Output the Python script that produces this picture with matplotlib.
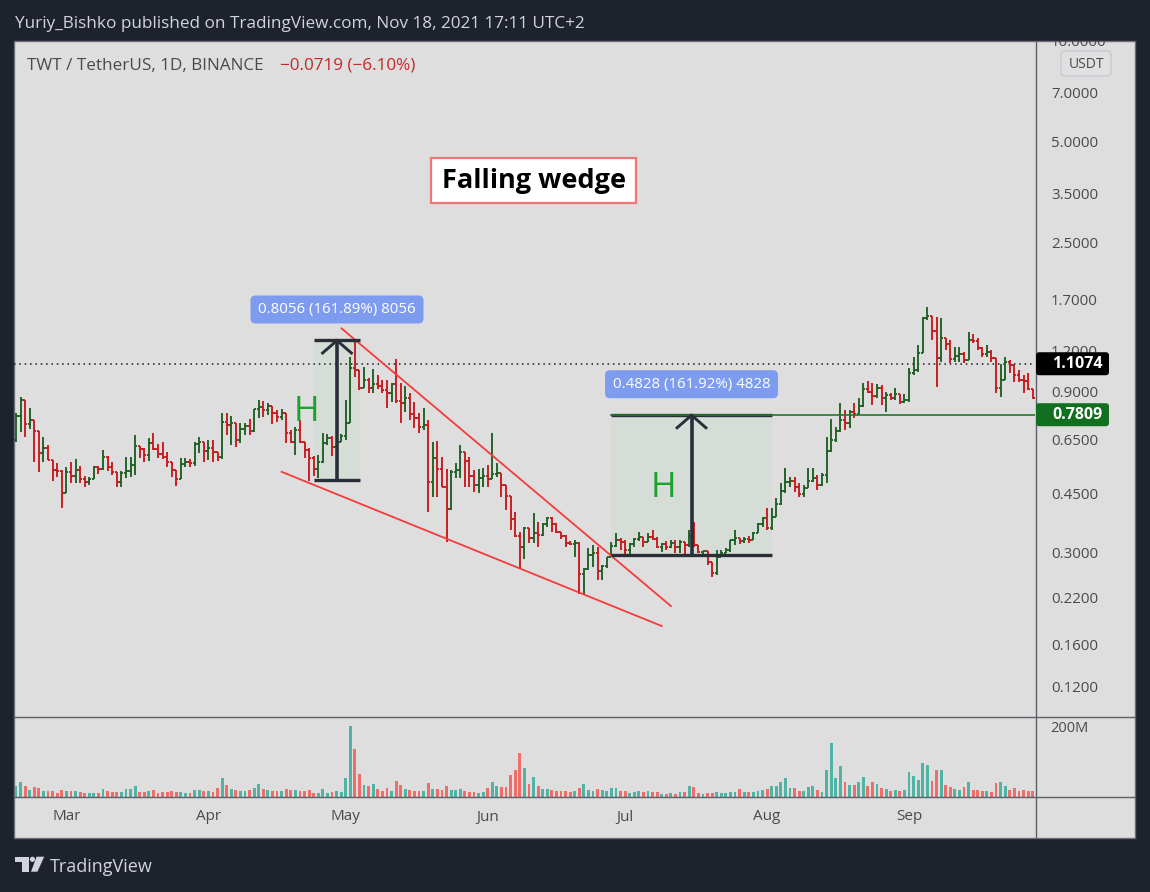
import numpy as np
import matplotlib
matplotlib.use("Agg")
import matplotlib.pyplot as plt
from matplotlib.patches import Rectangle, FancyBboxPatch, Polygon, Circle
from matplotlib.collections import LineCollection
import matplotlib.transforms as mtransforms

plt.rcParams['font.family'] = ['Open Sans', 'DejaVu Sans']

# ---------------- data ----------------
first_date = '2021-02-18'
open_first = 0.657
close = [0.774, 0.864, 0.733, 0.753, 0.698, 0.601, 0.622, 0.573, 0.535, 0.531,
         0.457, 0.527, 0.513, 0.535, 0.503, 0.493, 0.503, 0.546, 0.539, 0.584,
         0.546, 0.527, 0.493, 0.524, 0.531, 0.553, 0.630, 0.618, 0.593, 0.643,
         0.618, 0.597, 0.584, 0.565, 0.535, 0.503, 0.557, 0.565, 0.561, 0.639,
         0.648, 0.609, 0.622, 0.605, 0.584, 0.743, 0.728, 0.738, 0.657, 0.708,
         0.723, 0.698, 0.812, 0.824, 0.807, 0.829, 0.790, 0.769, 0.790, 0.689,
         0.648, 0.703, 0.648, 0.613, 0.580, 0.539, 0.565, 0.643, 0.666, 0.626,
         0.648, 0.675, 0.738, 1.076, 1.061, 0.938, 0.991, 0.938, 0.964, 0.951,
         0.925, 0.906, 0.964, 0.858, 0.847, 0.876, 0.785, 0.763, 0.718, 0.728,
         0.493, 0.580, 0.539, 0.476, 0.409, 0.527, 0.535, 0.605, 0.569, 0.513,
         0.482, 0.506, 0.513, 0.503, 0.520, 0.524, 0.482, 0.447, 0.383, 0.340,
         0.316, 0.360, 0.336, 0.347, 0.343, 0.370, 0.385, 0.370, 0.350, 0.340,
         0.324, 0.322, 0.324, 0.262, 0.271, 0.299, 0.303, 0.268, 0.277, 0.295,
         0.318, 0.331, 0.326, 0.309, 0.322, 0.333, 0.338, 0.326, 0.338, 0.333,
         0.316, 0.322, 0.316, 0.324, 0.316, 0.326, 0.320, 0.340, 0.320, 0.305,
         0.306, 0.284, 0.264, 0.295, 0.303, 0.309, 0.331, 0.336, 0.329, 0.334,
         0.331, 0.347, 0.370, 0.385, 0.360, 0.388, 0.424, 0.463, 0.493, 0.496,
         0.476, 0.454, 0.473, 0.496, 0.506, 0.482, 0.517, 0.609, 0.657, 0.698,
         0.753, 0.738, 0.796, 0.785, 0.829, 0.931, 0.912, 0.888, 0.938, 0.876,
         0.894, 0.876, 0.900, 0.852, 0.864, 1.039, 1.061, 1.192, 1.515, 1.535,
         1.386, 1.152, 1.321, 1.268, 1.144, 1.168, 1.184, 1.136, 1.303, 1.294,
         1.233, 1.184, 1.200, 1.152, 0.938, 0.991, 1.121, 1.098, 1.025, 0.991,
         0.984, 0.931, 0.874]
high = [0.790, 0.882, 0.864, 0.818, 0.753, 0.698, 0.670, 0.635, 0.573, 0.561,
        0.535, 0.546, 0.565, 0.576, 0.550, 0.513, 0.510, 0.550, 0.550, 0.613,
        0.588, 0.565, 0.527, 0.531, 0.584, 0.584, 0.680, 0.630, 0.622, 0.666,
        0.689, 0.639, 0.648, 0.605, 0.565, 0.535, 0.580, 0.580, 0.576, 0.648,
        0.670, 0.648, 0.657, 0.657, 0.605, 0.790, 0.790, 0.774, 0.738, 0.738,
        0.738, 0.758, 0.812, 0.864, 0.858, 0.847, 0.829, 0.807, 0.812, 0.790,
        0.703, 0.718, 0.753, 0.648, 0.622, 0.588, 0.593, 0.689, 0.684, 0.675,
        0.684, 0.684, 0.864, 1.160, 1.303, 1.061, 1.083, 1.004, 1.068, 1.025,
        0.991, 0.991, 0.970, 1.144, 0.970, 0.951, 0.906, 0.852, 0.790, 0.818,
        0.753, 0.648, 0.652, 0.584, 0.539, 0.535, 0.561, 0.635, 0.605, 0.584,
        0.535, 0.539, 0.542, 0.553, 0.689, 0.561, 0.524, 0.482, 0.447, 0.401,
        0.350, 0.362, 0.360, 0.399, 0.375, 0.372, 0.388, 0.388, 0.372, 0.350,
        0.343, 0.329, 0.331, 0.326, 0.273, 0.313, 0.320, 0.316, 0.279, 0.295,
        0.326, 0.347, 0.336, 0.331, 0.324, 0.336, 0.350, 0.338, 0.347, 0.355,
        0.338, 0.324, 0.329, 0.331, 0.331, 0.331, 0.326, 0.355, 0.375, 0.320,
        0.307, 0.305, 0.284, 0.309, 0.309, 0.313, 0.331, 0.355, 0.336, 0.338,
        0.340, 0.350, 0.372, 0.388, 0.412, 0.412, 0.441, 0.489, 0.542, 0.510,
        0.510, 0.489, 0.482, 0.542, 0.542, 0.517, 0.524, 0.670, 0.758, 0.718,
        0.847, 0.807, 0.807, 0.847, 0.876, 0.970, 0.984, 0.970, 0.964, 0.957,
        0.912, 0.906, 0.938, 0.900, 0.900, 1.076, 1.160, 1.259, 1.525, 1.633,
        1.525, 1.525, 1.515, 1.321, 1.303, 1.242, 1.242, 1.200, 1.376, 1.357,
        1.321, 1.242, 1.259, 1.217, 1.152, 1.105, 1.160, 1.136, 1.098, 1.061,
        1.025, 1.039, 0.925]
low = [0.648, 0.694, 0.670, 0.708, 0.565, 0.527, 0.565, 0.573, 0.496, 0.510,
       0.412, 0.457, 0.489, 0.489, 0.489, 0.476, 0.482, 0.503, 0.520, 0.535,
       0.531, 0.517, 0.476, 0.476, 0.506, 0.510, 0.517, 0.580, 0.565, 0.569,
       0.613, 0.580, 0.576, 0.546, 0.510, 0.479, 0.503, 0.546, 0.546, 0.550,
       0.601, 0.565, 0.573, 0.565, 0.569, 0.576, 0.680, 0.635, 0.626, 0.643,
       0.680, 0.680, 0.694, 0.763, 0.769, 0.779, 0.733, 0.743, 0.753, 0.643,
       0.643, 0.593, 0.643, 0.580, 0.496, 0.513, 0.506, 0.561, 0.635, 0.588,
       0.613, 0.648, 0.657, 0.738, 1.011, 0.925, 0.938, 0.906, 0.906, 0.931,
       0.906, 0.818, 0.852, 0.847, 0.738, 0.796, 0.753, 0.713, 0.689, 0.703,
       0.401, 0.444, 0.444, 0.476, 0.326, 0.407, 0.506, 0.506, 0.476, 0.476,
       0.460, 0.457, 0.476, 0.476, 0.503, 0.510, 0.444, 0.407, 0.355, 0.338,
       0.273, 0.291, 0.324, 0.324, 0.316, 0.340, 0.362, 0.350, 0.347, 0.333,
       0.316, 0.320, 0.295, 0.229, 0.229, 0.270, 0.275, 0.252, 0.252, 0.273,
       0.295, 0.316, 0.309, 0.299, 0.299, 0.316, 0.329, 0.316, 0.326, 0.331,
       0.313, 0.305, 0.309, 0.313, 0.303, 0.303, 0.299, 0.316, 0.316, 0.303,
       0.299, 0.279, 0.257, 0.260, 0.295, 0.303, 0.305, 0.320, 0.322, 0.324,
       0.324, 0.331, 0.347, 0.362, 0.355, 0.355, 0.388, 0.421, 0.457, 0.476,
       0.460, 0.444, 0.444, 0.473, 0.493, 0.466, 0.479, 0.489, 0.605, 0.648,
       0.694, 0.703, 0.713, 0.763, 0.785, 0.824, 0.906, 0.835, 0.876, 0.835,
       0.796, 0.864, 0.864, 0.841, 0.847, 0.852, 1.025, 1.047, 1.192, 1.494,
       1.303, 0.944, 1.121, 1.217, 1.113, 1.121, 1.121, 1.113, 1.136, 1.277,
       1.217, 1.160, 1.160, 1.121, 0.906, 0.882, 1.011, 1.039, 0.977, 0.977,
       0.906, 0.925, 0.870]
volume_m = [33, 44, 33, 21, 30, 27, 18, 18, 18, 13,
            21, 18, 18, 18, 15, 13, 13, 13, 13, 24,
            18, 15, 15, 15, 24, 24, 33, 15, 15, 18,
            21, 13, 15, 15, 18, 15, 15, 13, 13, 21,
            21, 18, 18, 15, 27, 56, 36, 24, 21, 18,
            18, 21, 27, 39, 24, 21, 18, 18, 18, 24,
            21, 21, 18, 18, 21, 13, 13, 24, 13, 15,
            18, 15, 56, 207, 140, 68, 36, 33, 39, 24,
            18, 27, 18, 47, 36, 24, 21, 18, 18, 18,
            42, 24, 24, 21, 33, 21, 21, 24, 18, 15,
            15, 13, 15, 27, 44, 33, 30, 30, 65, 79,
            129, 85, 39, 59, 33, 24, 24, 21, 18, 18,
            18, 15, 18, 27, 39, 21, 18, 24, 21, 18,
            27, 27, 18, 18, 13, 15, 18, 15, 18, 15,
            15, 10, 10, 13, 10, 15, 15, 33, 30, 13,
            10, 13, 13, 15, 13, 13, 15, 15, 24, 15,
            15, 15, 18, 21, 24, 33, 33, 44, 56, 27,
            27, 18, 18, 30, 33, 21, 15, 79, 158, 56,
            91, 44, 36, 36, 44, 59, 33, 44, 39, 27,
            24, 18, 21, 18, 21, 73, 62, 50, 100, 94,
            47, 79, 79, 36, 30, 24, 21, 30, 44, 21,
            21, 18, 18, 15, 42, 44, 33, 21, 27, 18,
            21, 18, 18]

price_ticks = [10.0, 7.0, 5.0, 3.5, 2.5, 1.7, 1.2, 0.9, 0.65, 0.45, 0.3, 0.22, 0.16, 0.12]
volume_tick_m = 200
last_price = 1.1074
target_price = 0.7809

# measurement tools: (start index, end index, low price, high price, label)
measures = [(65.07, 75.1, 0.4976, 1.3032, "0.8056 (161.89%) 8056"),
            (129.9, 165.1, 0.2982, 0.7809, "0.4828 (161.92%) 4828")]
h_labels = [(63.5, 0.748), (141.3, 0.444)]
upper_wedge = ([71.07, 143.0], [1.411, 0.2104])
lower_wedge = ([58.0, 141.0], [0.528, 0.1835])

title = "Yuriy_Bishko published on TradingView.com, Nov 18, 2021 17:11 UTC+2"
symbol = "TWT / TetherUS, 1D, BINANCE"
change = "\u22120.0719 (\u22126.10%)"

# ---------------- figure ----------------
W, H = 1150, 892
fig = plt.figure(figsize=(W / 100, H / 100), dpi=100)
fig.patch.set_facecolor('#1e222d')
px = mtransforms.Affine2D().scale(1.0 / W, -1.0 / H).translate(0, 1) + fig.transFigure

BG = '#dedede'
SEP = '#5d5f66'
TXT = '#4a4a4a'
UP, DN = '#1d6024', '#c8191e'
VUP, VDN = '#50b4a5', '#ef6d6b'

fig.patches.append(Rectangle((14, 41), 1121, 797, transform=px, facecolor=BG,
                             edgecolor='#6b6e78', lw=1.0, zorder=-10))

ax = fig.add_axes([14 / W, 1 - 717 / H, 1021 / W, 676 / H])
axv = fig.add_axes([14 / W, 1 - 797.3 / H, 1021 / W, 80.3 / H])
axr = fig.add_axes([1035 / W, 1 - 717 / H, 100 / W, 676 / H])
for a in (ax, axv, axr):
    a.set_facecolor('none')
    a.axis('off')

n = len(close)
idx = np.arange(n)
close_a = np.array(close)
opens = np.concatenate([[open_first], close_a[:-1]])
up = close_a >= opens

ax.set_yscale('log')
ax.set_ylim(0.0984, 10.11)
ax.set_xlim(-0.44, 222.5)
axv.set_xlim(-0.44, 222.5)
axv.set_ylim(0, 231.8)
axr.set_yscale('log')
axr.set_ylim(0.0984, 10.11)
axr.set_xlim(0, 1)

# OHLC bars
segs, cols = [], []
for i in range(n):
    o, h, l, c = opens[i], high[i], low[i], close[i]
    col = UP if up[i] else DN
    segs.append([(i, min(l, o, c)), (i, max(h, o, c))])
    segs.append([(i - 0.46, o), (i, o)])
    segs.append([(i, c), (i + 0.46, c)])
    cols += [col] * 3
ax.add_collection(LineCollection(segs, colors=cols, linewidths=1.35, capstyle='butt', zorder=3))

# volume
axv.bar(idx, volume_m, width=0.62, color=[VUP if u else VDN for u in up], zorder=2)

# wedge lines
ax.plot(upper_wedge[0], upper_wedge[1], color='#f53b3b', lw=1.3, zorder=5)
ax.plot(lower_wedge[0], lower_wedge[1], color='#f53b3b', lw=1.3, zorder=5)

# last price dotted line
ax.axhline(last_price, color='#1a1a1a', lw=1.1, ls=(0, (1, 2.5)), zorder=2)


def to_px(a, x, y):
    d = a.transData.transform((x, y))
    f = fig.transFigure.inverted().transform(d)
    return f[0] * W, (1 - f[1]) * H


def from_px(a, x, y):
    d = px.transform((x, y))
    return a.transData.inverted().transform(d)


# target green line
ax.plot([measures[1][0], 222.5], [target_price, target_price], color='#1f7a2a', lw=1.2, zorder=6)

DARK = '#2a2e39'
for (x0, x1, lo, hi, lab) in measures:
    ax.add_patch(Rectangle((x0, lo), x1 - x0, hi - lo, facecolor='#d6dcd6', edgecolor='none', zorder=1))
    ax.plot([x0, x1], [lo, lo], color=DARK, lw=2.4, solid_capstyle='butt', zorder=7)
    ax.plot([x0, x1], [hi, hi], color=DARK, lw=2.4, solid_capstyle='butt', zorder=5)
    xc = (x0 + x1) / 2
    ax.plot([xc, xc], [lo, hi], color=DARK, lw=2.6, solid_capstyle='butt', zorder=7)
    tx, ty = to_px(ax, xc, hi)
    pts = [from_px(ax, tx - 15.5, ty + 14), from_px(ax, tx, ty + 0.5), from_px(ax, tx + 15.5, ty + 14)]
    ax.plot([p[0] for p in pts], [p[1] for p in pts], color=DARK, lw=2.1,
            solid_capstyle='butt', solid_joinstyle='miter', zorder=7)
    bw = 173
    fig.patches.append(FancyBboxPatch((tx - bw / 2, ty - 44.5), bw, 28,
                                      boxstyle='round,pad=0,rounding_size=5', transform=px,
                                      facecolor='#7d9cf0', edgecolor='none', zorder=8))
    fig.text(tx / W, 1 - (ty - 30.5) / H, lab, color='white', fontsize=10.8,
             ha='center', va='center', zorder=9)

for (hx, hy) in h_labels:
    ax.text(hx, hy, 'H', color='#17a32c', fontsize=25, ha='center', va='baseline', zorder=8)

# Falling wedge box
fig.patches.append(Rectangle((431, 158), 205, 45, transform=px, facecolor='white',
                             edgecolor='#f07575', lw=1.6, zorder=8))
fig.text(533.5 / W, 1 - 181 / H, 'Falling wedge', fontsize=19.5, fontweight='bold',
         color='black', ha='center', va='center', zorder=9)

# header texts
fig.text(15 / W, 1 - 28 / H, title, color='#d1d4dc', fontsize=12.3, ha='left', va='baseline')
fig.text(27 / W, 1 - 70 / H, symbol, color=TXT, fontsize=12.3, ha='left', va='baseline')
fig.text(280 / W, 1 - 70 / H, change, color='#c62828', fontsize=12.3, ha='left', va='baseline')

# separators
for yy in (717, 797.3):
    fig.add_artist(plt.Line2D([14, 1135], [yy, yy], transform=px, color=SEP, lw=1.0))
fig.add_artist(plt.Line2D([1035.5, 1035.5], [41, 838], transform=px, color=SEP, lw=1.0))

# price scale labels
for t in price_ticks:
    axr.text(0.16, t, f"{t:.4f}", color=TXT, fontsize=10.8, ha='left', va='center', clip_on=True)

# USDT badge
fig.patches.append(FancyBboxPatch((1061, 51), 50, 25, boxstyle='round,pad=0,rounding_size=4',
                                  transform=px, facecolor='#e0e0e2', edgecolor='#c8c9d0', lw=1.0, zorder=8))
fig.text(1086 / W, 1 - 64 / H, 'USDT', color=TXT, fontsize=10, ha='center', va='center', zorder=9)

# last price / target labels
for price, colr in ((last_price, '#000000'), (target_price, '#107020')):
    _, py = to_px(axr, 0, price)
    fig.patches.append(FancyBboxPatch((1036, py - 11.5), 73, 23, boxstyle='round,pad=0,rounding_size=3',
                                      transform=px, facecolor=colr, edgecolor='none', zorder=8))
    fig.text(1052 / W, 1 - py / H, f"{price:.4f}", color='white', fontsize=11.5, fontweight='bold',
             ha='left', va='center', zorder=9)

# volume scale label
_, vy = to_px(axv, 0, volume_tick_m)
fig.text(1050 / W, 1 - vy / H, f"{volume_tick_m}M", color=TXT, fontsize=10.5, ha='left', va='center')

# month labels
dates = np.arange(np.datetime64(first_date), np.datetime64(first_date) + n)
month_start = dates.astype('datetime64[M]').astype('datetime64[D]')
mnames = ['Jan', 'Feb', 'Mar', 'Apr', 'May', 'Jun', 'Jul', 'Aug', 'Sep', 'Oct', 'Nov', 'Dec']
tr_month = mtransforms.blended_transform_factory(ax.transData, px)
for i in range(n):
    if dates[i] == month_start[i]:
        m = int(str(dates[i])[5:7])
        ax.text(i, 817, mnames[m - 1], transform=tr_month, color=TXT, fontsize=11,
                ha='center', va='center', clip_on=False)

# TradingView footer logo
LOGO = '#d1d4dc'
fig.patches.append(Rectangle((15.3, 856.7), 13.4, 5.0, transform=px, facecolor=LOGO, edgecolor='none'))
fig.patches.append(Rectangle((22.2, 856.7), 6.5, 15.0, transform=px, facecolor=LOGO, edgecolor='none'))
fig.patches.append(Circle((32.4, 859.3), 2.6, transform=px, facecolor=LOGO, edgecolor='none'))
fig.patches.append(Polygon([(36.6, 856.7), (44.2, 856.7), (37.4, 871.7), (31.0, 871.7)], closed=True,
                           transform=px, facecolor=LOGO, edgecolor='none'))
fig.text(50 / W, 1 - 872 / H, 'TradingView', color=LOGO, fontsize=13, ha='left', va='baseline')

fig.savefig('out.png', dpi=100, facecolor=fig.get_facecolor())
